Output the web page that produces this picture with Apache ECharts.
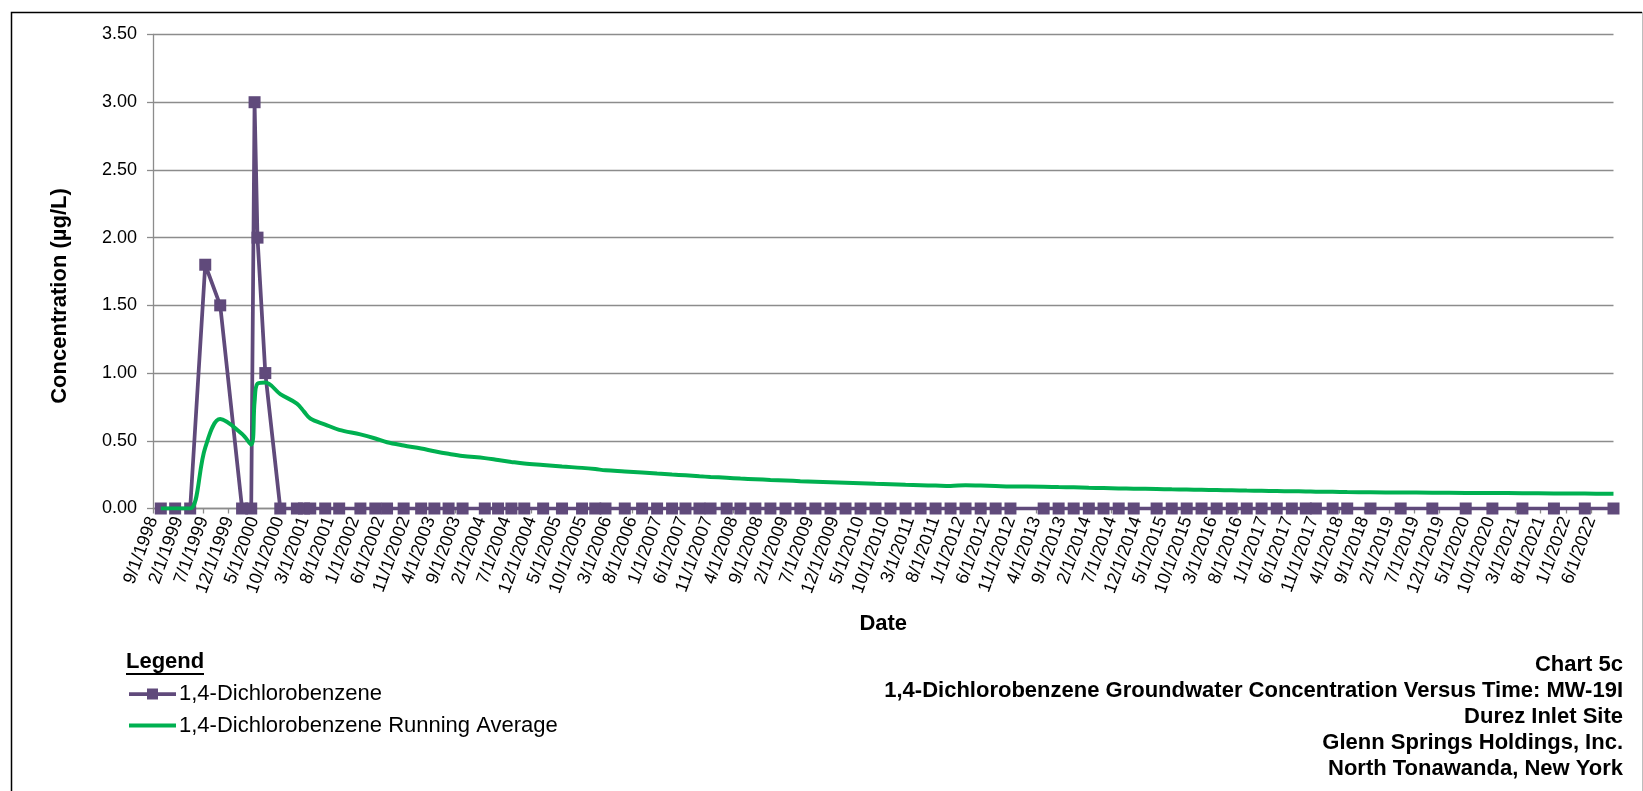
<!DOCTYPE html>
<html><head><meta charset="utf-8">
<script src="https://cdn.jsdelivr.net/npm/echarts@6/dist/echarts.min.js"></script>
<style>html,body{margin:0;padding:0;background:#fff}#c{width:1643px;height:791px}</style>
</head><body><div id="c"></div>
<script>
const sampleDates = [
'1998-10-18','1999-01-13','1999-04-12','1999-07-12','1999-10-11','2000-02-20','2000-04-15','2000-05-05','2000-05-23','2000-07-09',
'2000-10-08','2001-01-17','2001-02-27','2001-04-06','2001-07-05','2001-09-28','2002-02-04','2002-05-03','2002-07-13','2002-10-22',
'2003-02-05','2003-04-24','2003-07-19','2003-10-12','2004-02-23','2004-05-13','2004-08-02','2004-10-19','2005-02-10','2005-06-03',
'2005-10-02','2005-12-21','2006-02-20','2006-06-16','2006-09-29','2006-12-29','2007-03-28','2007-06-17','2007-09-10','2007-11-16',
'2008-02-21','2008-05-14','2008-08-13','2008-11-12','2009-02-11','2009-05-10','2009-08-10','2009-11-09','2010-02-08','2010-05-08',
'2010-08-07','2010-11-06','2011-02-05','2011-05-05','2011-08-04','2011-11-03','2012-02-02','2012-05-02','2012-08-01','2012-10-30',
'2013-05-17','2013-08-16','2013-11-15','2014-02-14','2014-05-13','2014-08-13','2014-11-12','2015-03-29','2015-06-28','2015-09-27',
'2015-12-26','2016-03-26','2016-06-25','2016-09-24','2016-12-23','2017-03-23','2017-06-22','2017-09-15','2017-11-15','2018-02-23',
'2018-05-22','2018-10-10','2019-04-09','2019-10-18','2020-05-06','2020-10-15','2021-04-13','2021-10-21','2022-04-24','2022-10-15'
];
const dcbValues = [
0,0,0,1.8,1.5,0,0,3.0,2.0,1.0,
0,0,0,0,0,0,0,0,0,0,
0,0,0,0,0,0,0,0,0,0,
0,0,0,0,0,0,0,0,0,0,
0,0,0,0,0,0,0,0,0,0,
0,0,0,0,0,0,0,0,0,0,
0,0,0,0,0,0,0,0,0,0,
0,0,0,0,0,0,0,0,0,0,
0,0,0,0,0,0,0,0,0,0
];
const runningAvg = [
0,0,0,0.45,0.66,0.55,0.471,0.788,0.922,0.93,
0.845,0.775,0.715,0.664,0.62,0.581,0.547,0.517,0.489,0.465,
0.443,0.423,0.404,0.388,0.372,0.358,0.344,0.332,0.321,0.31,
0.3,0.291,0.282,0.274,0.266,0.258,0.251,0.245,0.238,0.233,
0.227,0.221,0.216,0.211,0.207,0.202,0.198,0.194,0.19,0.186,
0.182,0.179,0.175,0.172,0.169,0.166,0.172,0.169,0.166,0.163,
0.161,0.158,0.156,0.153,0.151,0.148,0.146,0.144,0.142,0.14,
0.138,0.136,0.134,0.132,0.131,0.129,0.127,0.126,0.124,0.123,
0.121,0.12,0.118,0.117,0.115,0.114,0.113,0.111,0.11,0.109
];
const xTickLabels = [
'9/1/1998','2/1/1999','7/1/1999','12/1/1999','5/1/2000','10/1/2000','3/1/2001','8/1/2001','1/1/2002','6/1/2002',
'11/1/2002','4/1/2003','9/1/2003','2/1/2004','7/1/2004','12/1/2004','5/1/2005','10/1/2005','3/1/2006','8/1/2006',
'1/1/2007','6/1/2007','11/1/2007','4/1/2008','9/1/2008','2/1/2009','7/1/2009','12/1/2009','5/1/2010','10/1/2010',
'3/1/2011','8/1/2011','1/1/2012','6/1/2012','11/1/2012','4/1/2013','9/1/2013','2/1/2014','7/1/2014','12/1/2014',
'5/1/2015','10/1/2015','3/1/2016','8/1/2016','1/1/2017','6/1/2017','11/1/2017','4/1/2018','9/1/2018','2/1/2019',
'7/1/2019','12/1/2019','5/1/2020','10/1/2020','3/1/2021','8/1/2021','1/1/2022','6/1/2022'
];
const yTickLabels = ['0.00','0.50','1.00','1.50','2.00','2.50','3.00','3.50'];
const seriesNames = ['1,4-Dichlorobenzene','1,4-Dichlorobenzene Running Average'];
const titleLines = ['Chart 5c','1,4-Dichlorobenzene Groundwater Concentration Versus Time: MW-19I','Durez Inlet Site','Glenn Springs Holdings, Inc.','North Tonawanda, New York'];

const FONT = '"Liberation Sans", Arial, sans-serif';
const PURPLE = '#604A7B', GREEN = '#00B050', GRAY = '#8c8c8c';
// months elapsed since 9/1/1998 (axis origin)
function monthIndex(s){
  const p = s.split('-').map(Number);
  const dim = new Date(Date.UTC(p[0], p[1], 0)).getUTCDate();
  return (p[0]-1998)*12 + (p[1]-9) + (p[2]-1)/dim;
}
const dcbData = sampleDates.map((d,i)=>[monthIndex(d), dcbValues[i]]);
const avgData = sampleDates.map((d,i)=>[monthIndex(d), runningAvg[i]]);

const chart = echarts.init(document.getElementById('c'), null, {renderer:'canvas'});
chart.setOption({
  animation:false,
  backgroundColor:'#fff',
  textStyle:{fontFamily:FONT},
  grid:{left:153, right:29.5, top:34.5, bottom:282.5, containLabel:false},
  xAxis:{
    type:'value', min:0, max:'dataMax', interval:5,
    axisLine:{show:true, onZero:false, lineStyle:{color:GRAY, width:1.3}},
    axisTick:{show:true, length:5, lineStyle:{color:GRAY, width:1.3}},
    splitLine:{show:false},
    axisLabel:{
      rotate:70, fontSize:18, color:'#000', margin:9, fontFamily:FONT,
      showMinLabel:true, showMaxLabel:true,
      formatter:function(v){
        const k = Math.round(v/5);
        if (Math.abs(v - k*5) > 1e-6) return '';
        return xTickLabels[k] || '';
      }
    },
    name:'Date', nameLocation:'middle', nameGap:104,
    nameTextStyle:{fontSize:22, fontWeight:'bold', color:'#000', fontFamily:FONT}
  },
  yAxis:{
    type:'value', min:0, max:3.5, interval:0.5,
    axisLine:{show:true, lineStyle:{color:GRAY, width:1.3}},
    axisTick:{show:true, length:6, lineStyle:{color:GRAY, width:1.3}},
    splitLine:{show:true, lineStyle:{color:GRAY, width:1.3}},
    axisLabel:{fontSize:18, color:'#000', margin:16, fontFamily:FONT,
      formatter:function(v){ return yTickLabels[Math.round(v/0.5)] || ''; }}
  },
  series:[
    {
      name:seriesNames[0], type:'line', data:dcbData,
      symbol:'rect', symbolSize:12, showAllSymbol:true,
      lineStyle:{color:PURPLE, width:3.75},
      itemStyle:{color:PURPLE}, z:2
    },
    {
      name:seriesNames[1], type:'line', data:avgData,
      symbol:'none', smooth:0.35,
      lineStyle:{color:GREEN, width:4},
      itemStyle:{color:GREEN}, z:3
    }
  ],
  graphic:[
    // chart border
    {type:'polyline', silent:true, shape:{points:[[11.5,800],[11.5,12.5],[1642,12.5]]},
      style:{fill:null, stroke:'#000', lineWidth:1.5}},
    {type:'line', silent:true, shape:{x1:1642.5, y1:12, x2:1642.5, y2:800},
      style:{stroke:'#bdbdbd', lineWidth:1}},
    // y axis title
    {type:'text', silent:true, x:60, y:296, rotation:Math.PI/2,
      style:{text:'Concentration (µg/L)', font:'bold 22px ' + FONT, fill:'#000',
        align:'center', verticalAlign:'middle'}},
    // legend
    {type:'text', left:126, top:651, silent:true,
      style:{text:'Legend', font:'bold 22px ' + FONT, fill:'#000'}},
    {type:'line', silent:true, shape:{x1:126, y1:674, x2:204, y2:674},
      style:{stroke:'#000', lineWidth:1.8}},
    {type:'line', silent:true, shape:{x1:129, y1:694, x2:176, y2:694},
      style:{stroke:PURPLE, lineWidth:3.75}},
    {type:'rect', silent:true, shape:{x:147, y:688.5, width:11, height:11},
      style:{fill:PURPLE}},
    {type:'text', silent:true, x:179, y:694,
      style:{text:seriesNames[0], font:'22px ' + FONT, fill:'#000', verticalAlign:'middle'}},
    {type:'line', silent:true, shape:{x1:129, y1:725.5, x2:176, y2:725.5},
      style:{stroke:GREEN, lineWidth:4}},
    {type:'text', silent:true, x:179, y:725.5,
      style:{text:seriesNames[1], font:'22px ' + FONT, fill:'#000', verticalAlign:'middle'}},
    // title block
    {type:'text', silent:true, x:1623, y:652,
      style:{text:titleLines.join('\n'), font:'bold 22px ' + FONT, fill:'#000',
        align:'right', verticalAlign:'top', lineHeight:26}}
  ]
});
</script></body></html>
